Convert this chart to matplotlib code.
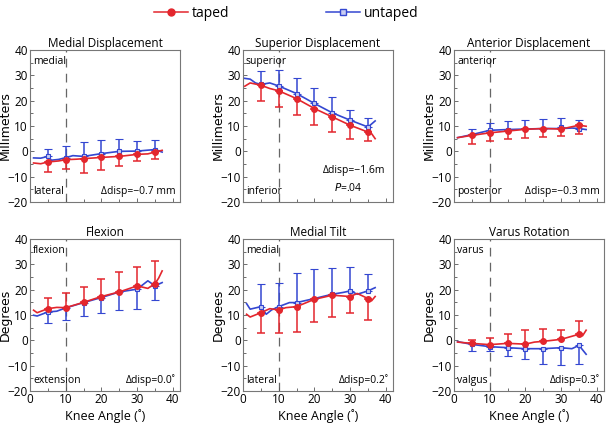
import matplotlib.pyplot as plt
from matplotlib.ticker import MultipleLocator
from matplotlib.lines import Line2D

plt.rcParams['font.family'] = ['Open Sans', 'DejaVu Sans']

RED = '#e3262d'
BLUE = '#3447d1'

# knee angles where means / error bars are plotted
angles = [5, 10, 15, 20, 25, 30, 35]

titles = ['Medial Displacement', 'Superior Displacement', 'Anterior Displacement',
          'Flexion', 'Medial Tilt', 'Varus Rotation']
ylabels = ['Millimeters', 'Millimeters', 'Millimeters', 'Degrees', 'Degrees', 'Degrees']
top_labels = ['medial', 'superior', 'anterior', 'flexion', 'medial', 'varus']
bottom_labels = ['lateral', 'inferior', 'posterior', 'extension', 'lateral', 'valgus']
delta_labels = ['Δdisp=−0.7 mm', 'Δdisp=−1.6m', 'Δdisp=−0.3 mm',
                'Δdisp=0.0˚', 'Δdisp=0.2˚', 'Δdisp=0.3˚']

# means at the sampled angles
taped_mean = [
    [-4.2, -3.3, -2.9, -2.4, -2.0, -1.2, -0.3],
    [26.1, 23.9, 20.8, 16.9, 13.6, 10.3, 7.6],
    [6.3, 7.3, 8.0, 8.7, 9.0, 8.8, 10.3],
    [12.5, 12.9, 15.0, 17.3, 19.1, 21.5, 22.4],
    [10.9, 12.0, 13.3, 16.2, 17.8, 17.3, 16.5],
    [-1.2, -1.7, -1.2, -1.5, -0.4, 0.4, 2.4],
]
untaped_mean = [
    [-2.0, -2.5, -2.0, -0.9, 0.0, 0.1, 0.7],
    [26.4, 25.8, 22.8, 18.9, 15.2, 12.3, 9.6],
    [6.6, 8.3, 8.6, 8.8, 9.0, 9.7, 9.0],
    [11.2, 12.8, 14.9, 16.9, 19.1, 20.2, 21.5],
    [13.3, 13.3, 14.9, 16.5, 18.2, 19.5, 19.5],
    [-1.6, -2.5, -2.9, -3.3, -3.3, -2.9, -2.0],
]
# error bar ends (one-sided)
taped_bar_end = [
    [-8.2, -6.9, -8.4, -7.3, -5.9, -4.0, -2.9],
    [19.8, 17.4, 14.3, 10.3, 7.7, 5.0, 4.0],
    [3.0, 4.1, 4.8, 5.4, 5.7, 5.9, 7.0],
    [16.8, 18.6, 21.0, 24.4, 26.8, 28.8, 31.4],
    [3.0, 3.0, 3.2, 7.2, 9.3, 10.6, 8.0],
    [0.2, 1.1, 2.6, 4.2, 4.4, 4.0, 7.8],
]
untaped_bar_end = [
    [0.8, 2.1, 3.7, 4.6, 4.9, 4.0, 4.4],
    [31.7, 32.1, 29.0, 25.1, 21.5, 16.5, 13.3],
    [8.8, 11.0, 11.9, 12.4, 12.7, 13.1, 12.5],
    [6.7, 8.0, 9.8, 10.7, 11.8, 12.2, 15.8],
    [22.3, 22.5, 26.5, 28.3, 28.7, 29.0, 26.2],
    [-4.2, -4.4, -6.2, -7.5, -9.3, -9.6, -9.4],
]

# continuous curves
taped_curve_x = [
    [1, 3, 5, 8, 10, 13, 15, 20, 25, 30, 33, 35, 37],
    [0.5, 2, 5, 7.5, 10, 15, 20, 25, 30, 35, 36, 37],
    [1, 5, 10, 15, 20, 25, 30, 35, 37],
    [1, 2, 5, 7.5, 10, 15, 20, 25, 30, 33, 35, 36, 37],
    [1, 2, 5, 7.5, 10, 12, 15, 20, 25, 30, 32, 35, 36, 37],
    [1, 5, 10, 15, 20, 22.5, 25, 30, 34, 35, 36, 37],
]
taped_curve_y = [
    [-4.6, -4.9, -4.2, -3.8, -3.3, -3.1, -2.9, -2.4, -2.0, -1.2, -1.0, -0.3, 0.4],
    [25.7, 27.0, 26.1, 24.8, 23.9, 20.8, 16.9, 13.6, 10.3, 7.6, 7.0, 5.0],
    [5.4, 6.3, 7.3, 8.0, 8.7, 9.0, 8.8, 10.3, 9.9],
    [11.9, 10.9, 12.5, 13.0, 12.9, 15.0, 17.3, 19.1, 21.5, 20.5, 22.4, 24.5, 27.4],
    [10.3, 9.2, 10.9, 12.5, 12.0, 12.9, 13.3, 16.2, 17.8, 17.3, 18.5, 16.5, 15.6, 17.3],
    [-0.7, -1.2, -1.7, -1.2, -1.5, -0.7, -0.4, 0.4, 2.0, 2.4, 1.8, 4.0],
]
untaped_curve_x = [
    [1, 3, 5, 6, 8, 10, 12, 15, 20, 25, 30, 35, 37],
    [0.5, 2, 3.5, 5, 7.5, 10, 15, 20, 25, 30, 35, 37],
    [1, 5, 10, 15, 20, 25, 30, 33, 35, 37],
    [1, 2, 5, 7.5, 10, 15, 20, 25, 30, 33, 35, 37],
    [1, 2, 5, 6.5, 8, 10, 13, 15, 20, 25, 28, 30, 32, 35, 37],
    [1, 5, 10, 15, 20, 25, 30, 33, 35, 37],
]
untaped_curve_y = [
    [-2.6, -2.7, -2.0, -3.5, -3.2, -2.5, -1.7, -2.0, -0.9, 0.0, 0.1, 0.7, -0.3],
    [28.8, 28.5, 27.0, 26.4, 27.0, 25.8, 22.8, 18.9, 15.2, 12.3, 9.6, 12.0],
    [5.4, 6.6, 8.3, 8.6, 8.8, 9.0, 9.0, 9.2, 9.0, 8.6],
    [9.9, 9.6, 11.2, 11.5, 12.8, 14.9, 16.9, 19.1, 20.2, 23.5, 21.5, 22.8],
    [14.5, 12.3, 13.3, 10.3, 12.0, 13.3, 14.9, 14.9, 16.5, 18.2, 18.9, 19.5, 18.2, 19.5, 20.8],
    [-0.5, -1.6, -2.5, -2.9, -3.3, -3.3, -2.9, -3.3, -2.0, -5.5],
]

fig = plt.figure(figsize=(6.08, 4.25), dpi=100)

lefts = [30, 243, 454]
tops = [50, 239]
w, h = 150, 152

for i in range(6):
    r, c = divmod(i, 3)
    ax = fig.add_axes([lefts[c] / 608, 1 - (tops[r] + h) / 425, w / 608, h / 425])

    # one-sided error bars
    t_err = [[max(m - e, 0) for m, e in zip(taped_mean[i], taped_bar_end[i])],
             [max(e - m, 0) for m, e in zip(taped_mean[i], taped_bar_end[i])]]
    u_err = [[max(m - e, 0) for m, e in zip(untaped_mean[i], untaped_bar_end[i])],
             [max(e - m, 0) for m, e in zip(untaped_mean[i], untaped_bar_end[i])]]

    ax.plot(untaped_curve_x[i], untaped_curve_y[i], color=BLUE, lw=1.2, zorder=3)
    ax.errorbar(angles, untaped_mean[i], yerr=u_err, fmt='s', color=BLUE, ms=3.5,
                mfc='#c9cdf2', mec=BLUE, mew=0.8, capsize=3, elinewidth=1.1,
                capthick=1.1, zorder=3)
    ax.plot(taped_curve_x[i], taped_curve_y[i], color=RED, lw=1.2, zorder=4)
    ax.errorbar(angles, taped_mean[i], yerr=t_err, fmt='o', color=RED, ms=4,
                capsize=3, elinewidth=1.1, capthick=1.1, zorder=4)

    ax.axvline(10, color='#666666', lw=0.9, dashes=(7, 5), zorder=1)

    ax.set_xlim(0, 42)
    ax.set_ylim(-20, 40)
    ax.xaxis.set_major_locator(MultipleLocator(10))
    ax.xaxis.set_minor_locator(MultipleLocator(5))
    ax.yaxis.set_major_locator(MultipleLocator(10))
    ax.yaxis.set_minor_locator(MultipleLocator(5))
    ax.tick_params(which='both', direction='in', length=3, width=0.6,
                   colors='#555555', labelcolor='black', labelsize=8.5, pad=1.5)
    ax.tick_params(which='minor', length=2)
    for s in ax.spines.values():
        s.set_color('#777777')
        s.set_linewidth(0.8)
    if r == 0:
        ax.set_xticklabels([])
    else:
        ax.set_xlabel('Knee Angle (˚)', fontsize=9, labelpad=2)

    ax.set_title(titles[i], fontsize=8.5, pad=2)
    ax.set_ylabel(ylabels[i], fontsize=9, family=['DejaVu Sans'])
    ax.yaxis.set_label_coords(-0.12, 0.5)

    ax.text(0.02, 0.96, top_labels[i], transform=ax.transAxes, fontsize=7.5,
            va='top', ha='left')
    ax.text(0.02, 0.03, bottom_labels[i], transform=ax.transAxes, fontsize=7.5,
            va='bottom', ha='left')
    if i == 1:
        ax.text(0.95, 0.17, delta_labels[i], transform=ax.transAxes, fontsize=7.5,
                va='bottom', ha='right')
        ax.text(0.80, 0.05, r'$P$=.04', transform=ax.transAxes, fontsize=7.5,
                va='bottom', ha='right')
    else:
        ax.text(0.97, 0.03, delta_labels[i], transform=ax.transAxes, fontsize=7.5,
                va='bottom', ha='right')

handles = [Line2D([], [], color=RED, marker='o', ms=5, lw=1.1),
           Line2D([], [], color=BLUE, marker='s', ms=4.5, mfc='#c9cdf2', lw=1.1)]
fig.legend(handles, ['taped', 'untaped'], loc='upper center',
           bbox_to_anchor=(0.471, 1.015), ncol=2, frameon=False, fontsize=10,
           columnspacing=7.0, handlelength=2.4, handletextpad=0.3)

fig.savefig('out.png', dpi=100)
